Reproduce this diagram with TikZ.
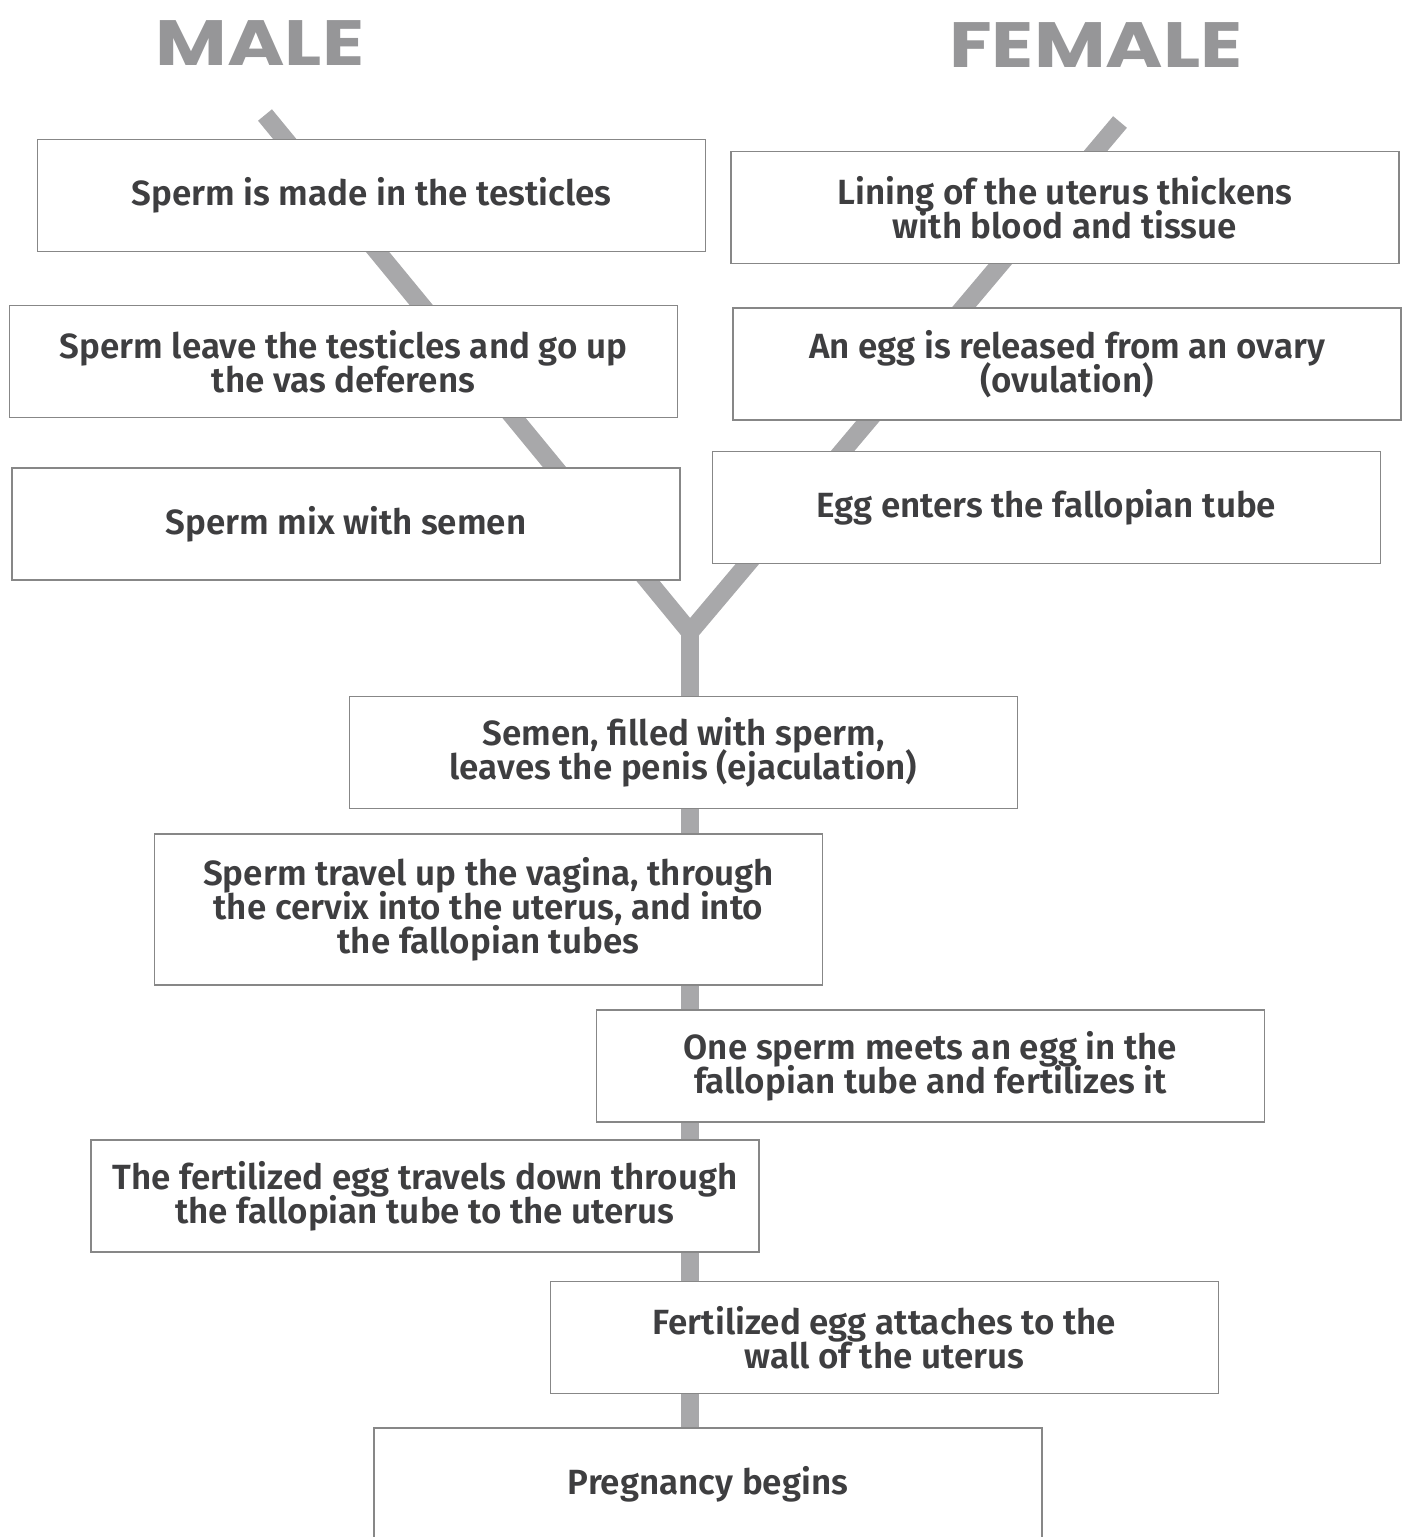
\documentclass[tikz,border=0pt]{standalone}
\usepackage{fontspec}
\setmainfont{Fira Sans}
\newfontfamily\boxfont{Fira Sans SemiBold}
\newfontfamily\titlefont{Poppins}
\usetikzlibrary{backgrounds}
\newcommand\tightlines{\lineskiplimit=-10pt\relax}
\definecolor{trunkgray}{RGB}{168,168,170}
\definecolor{boxgray}{RGB}{135,135,135}
\definecolor{inkgray}{RGB}{62,62,64}
\definecolor{headgray}{RGB}{150,150,152}
\begin{document}
\begin{tikzpicture}[x=0.5pt,y=-0.5pt,
  step box/.style={draw=boxgray,line width=0.9pt,fill=white,text=inkgray,
    minimum width=334pt,minimum height=56pt,align=center,
    font=\boxfont\fontsize{17.5}{17}\selectfont\tightlines,inner sep=0pt},
  heading/.style={text=headgray,xscale=1.22,font=\titlefont\bfseries\fontsize{32}{32}\selectfont},
  trunk/.style={draw=trunkgray,line width=9pt,line cap=butt,line join=miter}]
\useasboundingbox (0,0) rectangle (1406,1537);
% headings
\node[heading] (male) at (260,43) {MALE};
\node[heading] (female) at (1096,45) {FEMALE};
% male side
\node[step box] (testes) at (371.5,195.5) {Sperm is made in the testicles};
\node[step box] (vas) at (343.5,361.5) {Sperm leave the testicles and go up\\the vas deferens};
\node[step box] (semen) at (346,524) {Sperm mix with semen};
% female side
\node[step box] (lining) at (1065,207.5) {Lining of the uterus thickens\\with blood and tissue};
\node[step box] (ovary) at (1067,364) {An egg is released from an ovary\\(ovulation)};
\node[step box] (tube) at (1046.5,507.5) {Egg enters the fallopian tube};
% together
\node[step box] (ejac) at (683.5,752.5) {Semen, filled with sperm,\\leaves the penis (ejaculation)};
\node[step box,minimum height=75.5pt] (travel) at (488.5,909.5) {Sperm travel up the vagina, through\\the cervix into the uterus, and into\\the fallopian tubes};
\node[step box] (meet) at (930.5,1066) {One sperm meets an egg in the\\fallopian tube and fertilizes it};
\node[step box] (down) at (425,1196) {The fertilized egg travels down through\\the fallopian tube to the uterus};
\node[step box] (attach) at (884.5,1337.5) {Fertilized egg attaches to the\\wall of the uterus};
\node[step box] (preg) at (708,1484) {Pregnancy begins};
% the Y behind the boxes
\coordinate (maleTop) at (265,115);
\coordinate (femaleTop) at (1120,122);
\coordinate (fork) at (690,632);
\coordinate (bottom) at (690,1537);
\begin{pgfonlayer}{background}
\draw[trunk] (maleTop)--(fork)--(femaleTop);
\draw[trunk] (fork)--(bottom);
\end{pgfonlayer}
\end{tikzpicture}
\end{document}
